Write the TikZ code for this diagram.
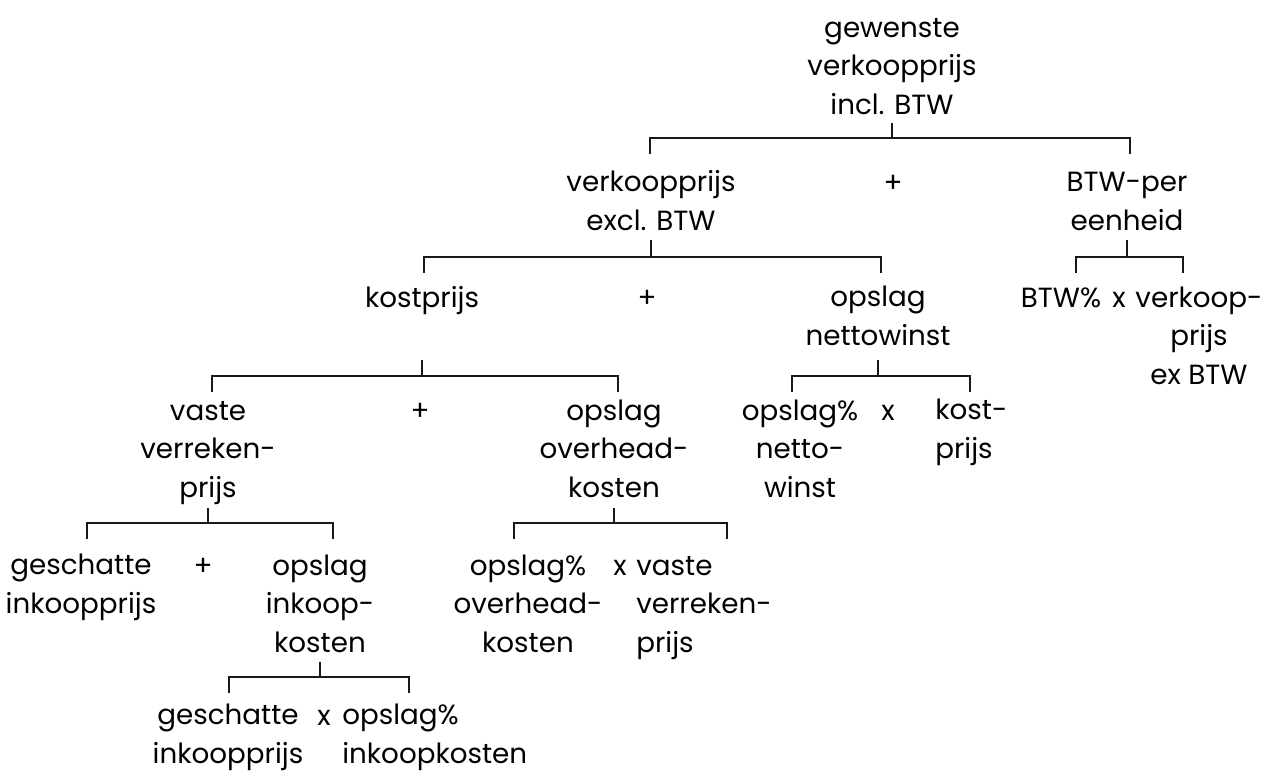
\documentclass[tikz,border=0pt]{standalone}
\usepackage{fontspec}
\setmainfont{Poppins}
\usepackage{tikz}

\begin{document}
\begin{tikzpicture}[x=0.02cm,y=-0.02cm,
  tak/.style={black!90,line width=1.1pt},
  lbl/.style={align=center,anchor=base,inner sep=0pt,font=\fontsize{15.8}{21.8}\selectfont}]
\useasboundingbox (0,0) rectangle (1272,772);

\node[lbl] (top) at (892,114) {gewenste\\verkoopprijs\\incl. BTW};

\node[lbl] (vkp) at (651,230) {verkoopprijs\\excl. BTW};
\node[lbl] (plusA) at (893,192) {+};
\node[lbl] (btw) at (1127,230) {BTW-per\\eenheid};

\node[lbl] (kp) at (422,307) {kostprijs};
\node[lbl] (plusB) at (647,307) {+};
\node[lbl] (onw) at (878,345) {opslag\\nettowinst};
\node[lbl] (btwp) at (1061,307) {BTW\%};
\node[lbl] (xA) at (1119,307) {x};
\node[lbl] (vkpex) at (1199,384) {verkoop-\\prijs\\ex BTW};

\node[lbl] (vvp) at (208,497) {vaste\\verreken-\\prijs};
\node[lbl] (plusC) at (420,420) {+};
\node[lbl] (ook) at (614,497) {opslag\\overhead-\\kosten};
\node[lbl] (opnw) at (800,497) {opslag\%\\netto-\\winst};
\node[lbl] (xB) at (888,420) {x};
\node[lbl,align=left,anchor=base west] (kpB) at (935,458) {kost-\\prijs};

\node[lbl] (gip) at (81,613) {geschatte\\inkoopprijs};
\node[lbl] (plusD) at (203,575) {+};
\node[lbl] (oik) at (320,652) {opslag\\inkoop-\\kosten};
\node[lbl] (opok) at (528,652) {opslag\%\\overhead-\\kosten};
\node[lbl] (xC) at (620,575) {x};
\node[lbl,align=left,anchor=base west] (vvpB) at (636,652) {vaste\\verreken-\\prijs};

\node[lbl] (gipB) at (228,763) {geschatte\\inkoopprijs};
\node[lbl] (xD) at (324,725) {x};
\node[lbl,align=left,anchor=base west] (opik) at (342,763) {opslag\%\\inkoopkosten};

\coordinate (t0l) at (650,138);
\coordinate (t0r) at (1130,138);
\coordinate (t1l) at (424,257);
\coordinate (t1r) at (881,257);
\coordinate (t2l) at (1076,257);
\coordinate (t2r) at (1183,257);
\coordinate (t3l) at (212,376);
\coordinate (t3r) at (618,376);
\coordinate (t4l) at (792,376);
\coordinate (t4r) at (970,376);
\coordinate (t5l) at (87,523);
\coordinate (t5r) at (333,523);
\coordinate (t6l) at (514,523);
\coordinate (t6r) at (727,523);
\coordinate (t7l) at (229,677);
\coordinate (t7r) at (409,677);

\draw[tak] (top.south |- t0l) ++(0,-15) -- ++(0,15);
\draw[tak] (t0l) ++(0,16) -- (t0l) -- (t0r) -- ++(0,16);
\draw[tak] (vkp.south |- t1l) ++(0,-17) -- ++(0,17);
\draw[tak] (t1l) ++(0,16) -- (t1l) -- (t1r) -- ++(0,16);
\draw[tak] (btw.south |- t2l) ++(0,-17) -- ++(0,17);
\draw[tak] (t2l) ++(0,16) -- (t2l) -- (t2r) -- ++(0,16);
\draw[tak] (kp.south |- t3l) ++(0,-16) -- ++(0,16);
\draw[tak] (t3l) ++(0,16) -- (t3l) -- (t3r) -- ++(0,16);
\draw[tak] (onw.south |- t4l) ++(0,-16) -- ++(0,16);
\draw[tak] (t4l) ++(0,16) -- (t4l) -- (t4r) -- ++(0,16);
\draw[tak] (vvp.south |- t5l) ++(0,-15) -- ++(0,15);
\draw[tak] (t5l) ++(0,16) -- (t5l) -- (t5r) -- ++(0,16);
\draw[tak] (ook.south |- t6l) ++(0,-15) -- ++(0,15);
\draw[tak] (t6l) ++(0,16) -- (t6l) -- (t6r) -- ++(0,16);
\draw[tak] (oik.south |- t7l) ++(0,-15) -- ++(0,15);
\draw[tak] (t7l) ++(0,16) -- (t7l) -- (t7r) -- ++(0,16);

\end{tikzpicture}
\end{document}
